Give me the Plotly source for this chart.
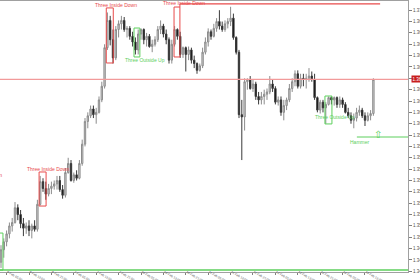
import plotly.graph_objects as go

# ---------------- data (hourly candles) ----------------
opens = [1.3478, 1.3489, 1.3496, 1.3503, 1.3510, 1.3513, 1.3526, 1.3520, 1.3512, 1.3508,
         1.3510, 1.3506, 1.3510, 1.3507, 1.3529, 1.3549, 1.3543, 1.3538, 1.3543, 1.3545,
         1.3547, 1.3550, 1.3542, 1.3537, 1.3557, 1.3565, 1.3550, 1.3555, 1.3552, 1.3565,
         1.3582, 1.3602, 1.3607, 1.3613, 1.3608, 1.3610, 1.3621, 1.3633, 1.3667, 1.3691,
         1.3674, 1.3658, 1.3683, 1.3688, 1.3691, 1.3683, 1.3684, 1.3677, 1.3672, 1.3665,
         1.3679, 1.3683, 1.3674, 1.3677, 1.3668, 1.3670, 1.3674, 1.3683, 1.3686, 1.3679,
         1.3674, 1.3656, 1.3670, 1.3683, 1.3677, 1.3661, 1.3667, 1.3661, 1.3665, 1.3656,
         1.3653, 1.3647, 1.3651, 1.3663, 1.3672, 1.3681, 1.3677, 1.3684, 1.3690, 1.3686,
         1.3683, 1.3688, 1.3690, 1.3693, 1.3676, 1.3663, 1.3608, 1.3606, 1.3637, 1.3639,
         1.3631, 1.3635, 1.3624, 1.3621, 1.3624, 1.3626, 1.3628, 1.3635, 1.3631, 1.3619,
         1.3621, 1.3610, 1.3616, 1.3621, 1.3631, 1.3637, 1.3644, 1.3633, 1.3640, 1.3639,
         1.3640, 1.3642, 1.3639, 1.3623, 1.3612, 1.3619, 1.3614, 1.3617, 1.3623, 1.3621,
         1.3623, 1.3617, 1.3621, 1.3617, 1.3610, 1.3607, 1.3603, 1.3605, 1.3610, 1.3612,
         1.3607, 1.3603, 1.3607, 1.3609]
highs = [1.3493, 1.3499, 1.3506, 1.3513, 1.3517, 1.3531, 1.3529, 1.3524, 1.3517, 1.3513,
         1.3515, 1.3512, 1.3515, 1.3533, 1.3554, 1.3552, 1.3549, 1.3547, 1.3549, 1.3550,
         1.3554, 1.3554, 1.3546, 1.3561, 1.3570, 1.3568, 1.3557, 1.3559, 1.3568, 1.3586,
         1.3605, 1.3610, 1.3616, 1.3616, 1.3614, 1.3624, 1.3637, 1.3670, 1.3698, 1.3695,
         1.3683, 1.3686, 1.3691, 1.3695, 1.3694, 1.3686, 1.3686, 1.3681, 1.3676, 1.3683,
         1.3684, 1.3684, 1.3680, 1.3679, 1.3674, 1.3677, 1.3686, 1.3691, 1.3688, 1.3683,
         1.3676, 1.3674, 1.3686, 1.3684, 1.3681, 1.3668, 1.3668, 1.3668, 1.3667, 1.3660,
         1.3654, 1.3653, 1.3667, 1.3676, 1.3684, 1.3683, 1.3688, 1.3693, 1.3700, 1.3690,
         1.3691, 1.3693, 1.3703, 1.3697, 1.3677, 1.3665, 1.3621, 1.3640, 1.3640, 1.3642,
         1.3639, 1.3637, 1.3628, 1.3628, 1.3630, 1.3631, 1.3642, 1.3639, 1.3633, 1.3624,
         1.3624, 1.3621, 1.3623, 1.3635, 1.3640, 1.3647, 1.3647, 1.3644, 1.3644, 1.3644,
         1.3649, 1.3646, 1.3644, 1.3624, 1.3621, 1.3621, 1.3619, 1.3624, 1.3624, 1.3624,
         1.3624, 1.3624, 1.3623, 1.3619, 1.3614, 1.3610, 1.3609, 1.3614, 1.3616, 1.3614,
         1.3610, 1.3610, 1.3612, 1.3640]
lows = [1.3473, 1.3482, 1.3492, 1.3499, 1.3505, 1.3512, 1.3515, 1.3508, 1.3501, 1.3503,
        1.3501, 1.3499, 1.3505, 1.3505, 1.3528, 1.3540, 1.3533, 1.3536, 1.3538, 1.3542,
        1.3542, 1.3540, 1.3534, 1.3535, 1.3556, 1.3549, 1.3548, 1.3550, 1.3551, 1.3563,
        1.3580, 1.3596, 1.3605, 1.3605, 1.3600, 1.3609, 1.3619, 1.3631, 1.3665, 1.3669,
        1.3653, 1.3656, 1.3676, 1.3683, 1.3681, 1.3676, 1.3674, 1.3668, 1.3661, 1.3661,
        1.3674, 1.3670, 1.3668, 1.3667, 1.3663, 1.3668, 1.3672, 1.3679, 1.3676, 1.3670,
        1.3653, 1.3653, 1.3668, 1.3674, 1.3658, 1.3658, 1.3646, 1.3656, 1.3653, 1.3649,
        1.3644, 1.3646, 1.3649, 1.3661, 1.3668, 1.3674, 1.3676, 1.3681, 1.3683, 1.3681,
        1.3681, 1.3684, 1.3686, 1.3674, 1.3661, 1.3605, 1.3568, 1.3594, 1.3630, 1.3630,
        1.3628, 1.3621, 1.3617, 1.3617, 1.3617, 1.3621, 1.3626, 1.3628, 1.3617, 1.3616,
        1.3607, 1.3603, 1.3612, 1.3619, 1.3628, 1.3633, 1.3631, 1.3631, 1.3633, 1.3631,
        1.3637, 1.3637, 1.3621, 1.3610, 1.3609, 1.3610, 1.3600, 1.3616, 1.3617, 1.3616,
        1.3614, 1.3614, 1.3614, 1.3609, 1.3605, 1.3600, 1.3596, 1.3602, 1.3607, 1.3605,
        1.3598, 1.3602, 1.3603, 1.3607]
closes = [1.3489, 1.3496, 1.3503, 1.3510, 1.3513, 1.3526, 1.3520, 1.3512, 1.3508, 1.3510,
          1.3506, 1.3510, 1.3507, 1.3529, 1.3549, 1.3543, 1.3538, 1.3543, 1.3545, 1.3547,
          1.3550, 1.3542, 1.3537, 1.3557, 1.3565, 1.3550, 1.3555, 1.3552, 1.3565, 1.3582,
          1.3602, 1.3607, 1.3613, 1.3608, 1.3610, 1.3621, 1.3633, 1.3667, 1.3691, 1.3674,
          1.3658, 1.3683, 1.3688, 1.3691, 1.3683, 1.3684, 1.3677, 1.3672, 1.3665, 1.3679,
          1.3683, 1.3674, 1.3677, 1.3668, 1.3670, 1.3674, 1.3683, 1.3686, 1.3679, 1.3674,
          1.3656, 1.3670, 1.3683, 1.3677, 1.3661, 1.3667, 1.3661, 1.3665, 1.3656, 1.3653,
          1.3647, 1.3651, 1.3663, 1.3672, 1.3681, 1.3677, 1.3684, 1.3690, 1.3686, 1.3683,
          1.3688, 1.3690, 1.3693, 1.3676, 1.3663, 1.3608, 1.3606, 1.3637, 1.3639, 1.3631,
          1.3635, 1.3624, 1.3621, 1.3624, 1.3626, 1.3628, 1.3635, 1.3631, 1.3619, 1.3621,
          1.3610, 1.3616, 1.3621, 1.3631, 1.3637, 1.3644, 1.3633, 1.3640, 1.3639, 1.3640,
          1.3642, 1.3639, 1.3623, 1.3612, 1.3619, 1.3614, 1.3617, 1.3623, 1.3621, 1.3623,
          1.3617, 1.3621, 1.3617, 1.3610, 1.3607, 1.3603, 1.3605, 1.3610, 1.3612, 1.3607,
          1.3603, 1.3607, 1.3609, 1.3639]

tick_bars = [2, 10, 18, 26, 34, 42, 50, 58, 66, 74, 82, 90, 98, 106, 114, 122, 130]
tick_labels = ["6 Feb 05:00", "6 Feb 13:00", "6 Feb 21:00", "7 Feb 05:00", "7 Feb 13:00",
               "7 Feb 21:00", "10 Feb 05:00", "10 Feb 13:00", "10 Feb 21:00",
               "11 Feb 05:00", "11 Feb 13:00", "11 Feb 21:00", "12 Feb 05:00",
               "12 Feb 13:00", "12 Feb 21:00", "13 Feb 05:00", "13 Feb 13:00"]

# candle-pattern markers found on the chart
pattern_names = ["Three Inside Down", "Three Inside Down", "Three Outside Up",
                 "Three Inside Down", "Three Outside Up"]
pattern_start = [13.6, 37.6, 47.5, 61.8, 115.7]
pattern_end = [16.1, 40.1, 49.6, 63.9, 118.2]
pattern_top = [1.35575, 1.37020, 1.36843, 1.37028, 1.36244]
pattern_bottom = [1.35275, 1.36535, 1.36588, 1.36588, 1.35998]
label_bar = [16.8, 41.1, 51.25, 65.4, 119.3]
label_price = [1.35597, 1.37042, 1.36557, 1.37064, 1.36059]

bid_price = 1.3639
support_price = 1.34711
resistance_price = 1.37055
resistance_from, resistance_to = 63.9, 135.4
hammer_price = 1.35883
hammer_from = 127.1
hammer_label_bar, hammer_label_price = 128.2, 1.35843
hammer_arrow_bar, hammer_arrow_price = 134.8, 1.35905
left_box_top = 1.35037
left_label_price = 1.35548

RED = "#e84a4a"
GREEN = "#5ccf5c"

bars = list(range(len(opens)))

fig = go.Figure()
fig.add_trace(go.Candlestick(
    x=bars, open=opens, high=highs, low=lows, close=closes,
    increasing=dict(line=dict(color="#8c8c8c", width=1), fillcolor="#d6d6d6"),
    decreasing=dict(line=dict(color="#3a3a3a", width=1), fillcolor="#000000"),
    whiskerwidth=0, showlegend=False, hoverinfo="skip",
))

shapes = []
annotations = []
for name, x0, x1, top, bot, lx, ly in zip(pattern_names, pattern_start, pattern_end,
                                          pattern_top, pattern_bottom, label_bar, label_price):
    col = RED if name.endswith("Down") else GREEN
    shapes.append(dict(type="rect", xref="x", yref="y", x0=x0, x1=x1, y0=bot, y1=top,
                       line=dict(color=col, width=1), fillcolor="rgba(0,0,0,0)"))
    annotations.append(dict(xref="x", yref="y", x=lx, y=ly, text=name, showarrow=False,
                            font=dict(size=5, color=col), xanchor="center", yanchor="middle"))

# resistance line from the second Three Inside Down
shapes.append(dict(type="line", xref="x", yref="y", x0=pattern_end[3], x1=pattern_end[3],
                   y0=pattern_top[3], y1=resistance_price, line=dict(color=RED, width=1)))
shapes.append(dict(type="line", xref="x", yref="y", x0=resistance_from, x1=resistance_to,
                   y0=resistance_price, y1=resistance_price, line=dict(color=RED, width=1.3)))
# bid line
shapes.append(dict(type="line", xref="paper", yref="y", x0=0, x1=1, y0=bid_price, y1=bid_price,
                   line=dict(color="#f29a9a", width=1.2)))
# bottom support line and cut-off box on the left
shapes.append(dict(type="line", xref="paper", yref="y", x0=0, x1=1, y0=support_price,
                   y1=support_price, line=dict(color=GREEN, width=1.5)))
shapes.append(dict(type="rect", xref="x", yref="y", x0=-3, x1=0.7, y0=support_price,
                   y1=left_box_top, line=dict(color=GREEN, width=1), fillcolor="rgba(0,0,0,0)"))
# hammer
shapes.append(dict(type="line", xref="x", yref="y", x0=hammer_from, x1=150,
                   y0=hammer_price, y1=hammer_price, line=dict(color=GREEN, width=1)))
annotations.append(dict(xref="x", yref="y", x=hammer_label_bar, y=hammer_label_price,
                        text="Hammer", showarrow=False, font=dict(size=5, color=GREEN),
                        xanchor="center", yanchor="middle"))
annotations.append(dict(xref="x", yref="y", x=hammer_arrow_bar, y=hammer_arrow_price,
                        text="⇧", showarrow=False, font=dict(size=10, color=GREEN,
                                                             family="DejaVu Sans"),
                        xanchor="center", yanchor="middle"))
annotations.append(dict(xref="x", yref="y", x=0.9, y=left_label_price, text="Three Inside Down",
                        showarrow=False, font=dict(size=5, color=RED), xanchor="right",
                        yanchor="middle"))
# bid price tag on the price scale
annotations.append(dict(xref="paper", yref="y", x=1, xshift=3, y=bid_price,
                        text="1.36390", showarrow=False, xanchor="left", yanchor="middle",
                        font=dict(size=4.5, color="white"), bgcolor="#c81e1e", borderpad=0.5))

fig.update_layout(
    width=420, height=280,
    margin=dict(l=0, r=12, t=1, b=8, autoexpand=False),
    paper_bgcolor="white", plot_bgcolor="white",
    font=dict(family="Liberation Sans", size=4, color="#555555"),
    shapes=shapes, annotations=annotations,
    showlegend=False,
    xaxis=dict(range=[-0.357, 145.36], tickvals=tick_bars, ticktext=tick_labels,
               ticks="outside", ticklen=2, tickcolor="#808080",
               tickfont=dict(size=3.2, color="#505050"),
               ticklabelposition="outside right", ticklabelstandoff=-4, automargin=False,
               showgrid=False, zeroline=False, showline=True, mirror=True,
               linecolor="#a0a0a0", linewidth=1, rangeslider=dict(visible=False)),
    yaxis=dict(range=[1.34694, 1.37081], side="right", dtick=0.001, tick0=1.37,
               tickformat=".5f", ticks="outside", ticklen=3, tickcolor="#808080",
               tickfont=dict(size=4.5, color="#505050"), automargin=False,
               showgrid=False, zeroline=False, showline=True, linecolor="#a0a0a0",
               linewidth=1),
)

fig.write_html("out.html", config={"displayModeBar": False})
